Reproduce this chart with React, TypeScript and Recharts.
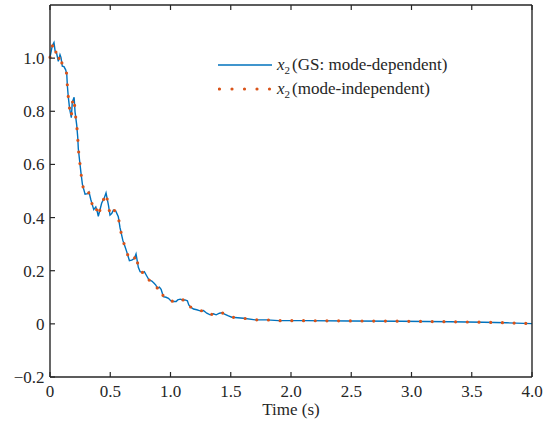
import { LineChart, Line, XAxis, YAxis, Legend } from 'recharts'

const timeS = [
  0, 0.019, 0.033, 0.042, 0.055, 0.069, 0.083, 0.091, 0.102, 0.116, 0.13, 0.139, 0.144, 0.152, 0.163, 0.177,
  0.185, 0.2, 0.208, 0.222, 0.23, 0.235, 0.246, 0.257, 0.269, 0.291, 0.313, 0.324, 0.338, 0.352, 0.363, 0.38,
  0.393, 0.401, 0.41, 0.429, 0.449, 0.465, 0.485, 0.498, 0.512, 0.526, 0.545, 0.567, 0.581, 0.604, 0.623, 0.637,
  0.659, 0.678, 0.7, 0.714, 0.725, 0.733, 0.748, 0.77, 0.783, 0.803, 0.822, 0.845, 0.864, 0.878, 0.891, 0.908,
  0.922, 0.941, 0.963, 0.983, 1.002, 1.024, 1.047, 1.06, 1.08, 1.102, 1.121, 1.14, 1.152, 1.168, 1.191, 1.218,
  1.246, 1.273, 1.301, 1.329, 1.356, 1.379, 1.406, 1.426, 1.453, 1.481, 1.509, 1.606, 1.703, 1.8, 1.896, 2.104,
  2.49, 2.907, 3.32, 3.6, 3.79, 4.0,
]

// x2 with the gain-scheduled (mode-dependent) controller
const x2ModeDependent = [
  1.003, 1.047, 1.059, 1.028, 1.018, 0.988, 1.013, 1.003, 0.97, 0.968, 0.956, 0.94, 0.897, 0.853, 0.809, 0.776,
  0.834, 0.853, 0.797, 0.747, 0.703, 0.659, 0.613, 0.568, 0.525, 0.488, 0.49, 0.496, 0.469, 0.447, 0.43, 0.44,
  0.421, 0.405, 0.421, 0.455, 0.472, 0.493, 0.447, 0.409, 0.415, 0.428, 0.425, 0.403, 0.362, 0.315, 0.29, 0.271,
  0.238, 0.24, 0.246, 0.263, 0.234, 0.213, 0.196, 0.193, 0.196, 0.18, 0.165, 0.161, 0.153, 0.146, 0.134, 0.138,
  0.13, 0.102, 0.1, 0.096, 0.087, 0.084, 0.084, 0.09, 0.093, 0.09, 0.09, 0.087, 0.071, 0.063, 0.056, 0.053,
  0.049, 0.05, 0.04, 0.034, 0.038, 0.034, 0.04, 0.042, 0.036, 0.03, 0.025, 0.021, 0.015, 0.015, 0.012, 0.012,
  0.011, 0.01, 0.008, 0.006, 0.004, 0.001,
]

// x2 with the mode-independent controller (practically on top of the other one)
const x2ModeIndependent = [
  1.003, 1.045, 1.055, 1.028, 1.018, 0.99, 1.012, 1.003, 0.972, 0.968, 0.956, 0.94, 0.897, 0.853, 0.809, 0.78,
  0.832, 0.85, 0.797, 0.747, 0.703, 0.659, 0.613, 0.568, 0.525, 0.488, 0.49, 0.494, 0.469, 0.447, 0.432, 0.44,
  0.421, 0.407, 0.421, 0.455, 0.472, 0.49, 0.447, 0.41, 0.415, 0.428, 0.425, 0.403, 0.362, 0.315, 0.29, 0.271,
  0.24, 0.24, 0.246, 0.26, 0.234, 0.213, 0.196, 0.193, 0.196, 0.18, 0.165, 0.161, 0.153, 0.146, 0.134, 0.138,
  0.13, 0.102, 0.1, 0.096, 0.087, 0.084, 0.084, 0.09, 0.093, 0.09, 0.09, 0.087, 0.071, 0.063, 0.056, 0.053,
  0.049, 0.05, 0.04, 0.034, 0.038, 0.034, 0.04, 0.042, 0.036, 0.03, 0.025, 0.021, 0.015, 0.015, 0.012, 0.012,
  0.011, 0.01, 0.008, 0.006, 0.004, 0.001,
]

const xTicks = [0, 0.5, 1, 1.5, 2, 2.5, 3, 3.5, 4]
const yTicks = [-0.2, 0, 0.2, 0.4, 0.6, 0.8, 1.0]

const data = timeS.map((t, i) => ({ t, gs: x2ModeDependent[i], mi: x2ModeIndependent[i] }))

const BLUE = '#0072BD'
const RED = '#D95319'
const INK = '#262626'
const FONT = '"Liberation Serif", "Times New Roman", serif'
const FS = 17

const fmt = (v: number) => (v === 0 ? '0' : v.toFixed(1).replace('-', '\u2212'))

// MATLAB-style box: tick marks point into the plot, labels only on bottom and left
function BoxTick({ x, y, payload, side }: any) {
  const len = 5
  const v = payload.value
  if (side === 'bottom') {
    return (
      <g>
        <line x1={x} y1={y} x2={x} y2={y - len} stroke={INK} strokeWidth={1.2} />
        <text x={x} y={y + 20} textAnchor="middle" fontFamily={FONT} fontSize={FS} fill={INK}>{fmt(v)}</text>
      </g>
    )
  }
  if (side === 'top') return <line x1={x} y1={y} x2={x} y2={y + len} stroke={INK} strokeWidth={1.2} />
  if (side === 'left') {
    return (
      <g>
        <line x1={x} y1={y} x2={x + len} y2={y} stroke={INK} strokeWidth={1.2} />
        <text x={x - 5.5} y={y + 6} textAnchor="end" fontFamily={FONT} fontSize={FS} fill={INK}>{fmt(v)}</text>
      </g>
    )
  }
  return <line x1={x} y1={y} x2={x - len} y2={y} stroke={INK} strokeWidth={1.2} />
}

function LegendBox() {
  const row = { display: 'flex', alignItems: 'center', height: 24, whiteSpace: 'nowrap' as const }
  const sub = { fontSize: 11, position: 'relative' as const, top: 5, marginRight: 2 }
  return (
    <div style={{ fontFamily: FONT, fontSize: FS, color: INK, lineHeight: '24px' }}>
      <div style={row}>
        <svg width={59} height={6}>
          <line x1={0} y1={3} x2={54} y2={3} stroke={BLUE} strokeWidth={1.4} />
        </svg>
        <i>x</i>
        <span style={sub}>2</span>
        <span>(GS: mode-dependent)</span>
      </div>
      <div style={row}>
        <svg width={59} height={6}>
          <line x1={1.5} y1={3} x2={54} y2={3} stroke={RED} strokeWidth={3.2} strokeLinecap="round" strokeDasharray="0 12.5" />
        </svg>
        <i>x</i>
        <span style={sub}>2</span>
        <span>(mode-independent)</span>
      </div>
    </div>
  )
}

export default function App() {
  const axisLine = { stroke: INK, strokeWidth: 1.4 }
  return (
    <div style={{ width: 553, height: 433, background: '#fff' }}>
      <style>{'body{margin:0}'}</style>
      <LineChart width={553} height={433} data={data} margin={{ top: 4, right: 20, bottom: 0, left: 0 }}>
        <XAxis
          dataKey="t"
          type="number"
          domain={[0, 4]}
          ticks={xTicks}
          height={56}
          axisLine={axisLine}
          tickLine={false}
          tickSize={0}
          tickMargin={0}
          tick={(p: any) => <BoxTick {...p} side="bottom" />}
          label={{ value: 'Time (s)', position: 'insideBottom', offset: 18, style: { fontFamily: FONT, fontSize: FS, fill: INK } }}
        />
        <XAxis
          xAxisId="top"
          orientation="top"
          dataKey="t"
          type="number"
          domain={[0, 4]}
          ticks={xTicks}
          height={1}
          axisLine={axisLine}
          tickLine={false}
          tickSize={0}
          tickMargin={0}
          tick={(p: any) => <BoxTick {...p} side="top" />}
        />
        <YAxis
          type="number"
          domain={[-0.2, 1.2]}
          ticks={yTicks}
          width={50}
          axisLine={axisLine}
          tickLine={false}
          tickSize={0}
          tickMargin={0}
          tick={(p: any) => <BoxTick {...p} side="left" />}
        />
        <YAxis
          yAxisId="right"
          orientation="right"
          type="number"
          domain={[-0.2, 1.2]}
          ticks={yTicks}
          width={1}
          axisLine={axisLine}
          tickLine={false}
          tickSize={0}
          tickMargin={0}
          tick={(p: any) => <BoxTick {...p} side="right" />}
        />
        <Legend
          layout="horizontal"
          verticalAlign="middle"
          align="center"
          content={<LegendBox />}
          wrapperStyle={{ top: 53, left: 218, width: 260, height: 48 }}
        />
        <Line
          type="linear"
          dataKey="gs"
          stroke={BLUE}
          strokeWidth={1.4}
          dot={false}
          isAnimationActive={false}
        />
        <Line
          type="linear"
          dataKey="mi"
          stroke={RED}
          strokeWidth={3.2}
          strokeLinecap="round"
          strokeDasharray="0 11.7"
          dot={false}
          isAnimationActive={false}
        />
      </LineChart>
    </div>
  )
}
